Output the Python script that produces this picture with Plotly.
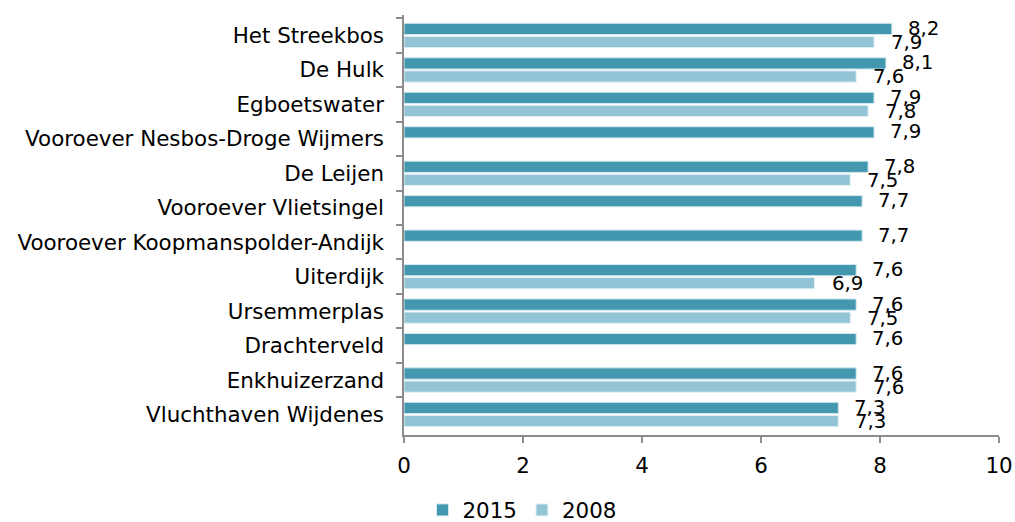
import plotly.graph_objects as go

categories = ["Het Streekbos", "De Hulk", "Egboetswater", "Vooroever Nesbos-Droge Wijmers",
              "De Leijen", "Vooroever Vlietsingel", "Vooroever Koopmanspolder-Andijk",
              "Uiterdijk", "Ursemmerplas", "Drachterveld", "Enkhuizerzand", "Vluchthaven Wijdenes"]
v2015 = [8.2, 8.1, 7.9, 7.9, 7.8, 7.7, 7.7, 7.6, 7.6, 7.6, 7.6, 7.3]
v2008 = [7.9, 7.6, 7.8, None, 7.5, None, None, 6.9, 7.5, None, 7.6, 7.3]
x_ticks = [0, 2, 4, 6, 8, 10]

C2015 = "#4398B0"
C2008 = "#93C4D6"
FONT = "DejaVu Sans"
FS = 21.4

fig = go.Figure()
fig.add_trace(go.Bar(y=categories, x=v2015, orientation="h", name="2015",
                     marker=dict(color=C2015, line=dict(color="#D5EAF0", width=1))))
fig.add_trace(go.Bar(y=categories, x=v2008, orientation="h", name="2008",
                     marker=dict(color=C2008, line=dict(color="#E3F1F5", width=1))))

def fmt(v):
    return f"{v:.1f}".replace(".", ",")

ann = []
for c, v in zip(categories, v2015):
    ann.append(dict(x=v, y=c, xref="x", yref="y", text=fmt(v), showarrow=False,
                    xanchor="left", yanchor="middle", xshift=14, yshift=7,
                    font=dict(family=FONT, size=19.8, color="#000000")))
for c, v in zip(categories, v2008):
    if v is None:
        continue
    ann.append(dict(x=v, y=c, xref="x", yref="y", text=fmt(v), showarrow=False,
                    xanchor="left", yanchor="middle", xshift=15, yshift=-7,
                    font=dict(family=FONT, size=19.8, color="#000000")))

fig.update_layout(
    width=1015, height=522,
    margin=dict(l=404, r=16, t=15, b=87),
    paper_bgcolor="white", plot_bgcolor="white",
    barmode="group", bargap=0.24, bargroupgap=0.14,
    font=dict(family=FONT, size=FS, color="#000000"),
    showlegend=True,
    legend=dict(orientation="h", x=522 / 1015, xanchor="center",
                y=(522 - 510) / 522, yanchor="middle",
                xref="container", yref="container",
                font=dict(family=FONT, size=FS), itemwidth=30,
                traceorder="normal"),
    annotations=ann,
)
fig.update_xaxes(range=[0, 10], tickvals=x_ticks, showgrid=False, zeroline=False,
                 showline=True, linecolor="#8C8C8C", linewidth=1.5,
                 ticks="outside", ticklen=6, tickcolor="#8C8C8C", tickwidth=1.5,
                 ticklabelstandoff=5, automargin=False,
                 tickfont=dict(family=FONT, size=FS))
fig.update_yaxes(autorange="reversed", showgrid=False, showline=True, linecolor="#8C8C8C",
                 linewidth=1.5, ticks="outside", ticklen=6, tickcolor="#8C8C8C", tickwidth=1.5,
                 tickson="boundaries", ticklabelstandoff=14, automargin=False,
                 tickfont=dict(family=FONT, size=FS))

fig.write_html("out.html", config={"displayModeBar": False},
               post_script="document.body.style.margin='0';document.body.style.overflow='hidden';")
